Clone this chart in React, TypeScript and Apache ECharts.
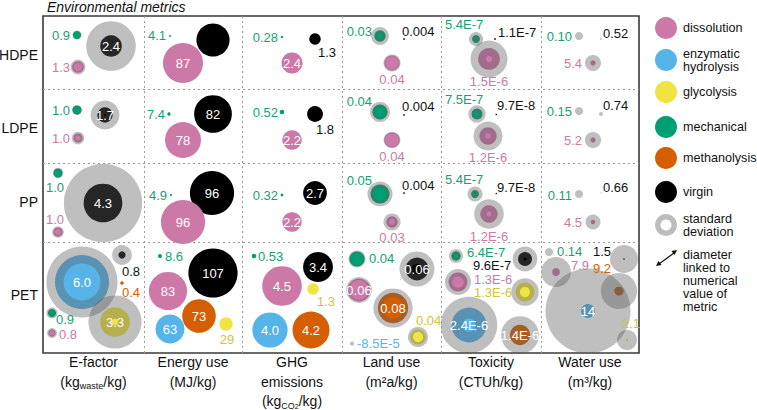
import React, { useEffect, useRef } from 'react';
import * as echarts from 'echarts';

const PLASTICS = ['HDPE', 'LDPE', 'PP', 'PET'];
const METRICS = ['E-factor', 'Energy use', 'GHG emissions', 'Land use', 'Toxicity', 'Water use'];
const METHODS = ['dissolution', 'enzymatic hydrolysis', 'glycolysis', 'mechanical', 'methanolysis', 'virgin'];

// [plastic, method, value, standard deviation, label]
const eFactor: any[] = [
  ['HDPE', 'mechanical', 0.9, 0.1, '0.9'],
  ['HDPE', 'dissolution', 1.3, 0.35, '1.3'],
  ['HDPE', 'virgin', 2.4, 3.1, '2.4'],
  ['LDPE', 'mechanical', 1.0, 0.1, '1.0'],
  ['LDPE', 'dissolution', 1.0, 0.4, '1.0'],
  ['LDPE', 'virgin', 1.7, 1.5, '1.7'],
  ['PP', 'mechanical', 1.0, 0.15, '1.0'],
  ['PP', 'virgin', 4.3, 4.4, '4.3'],
  ['PP', 'dissolution', 1.0, 0.3, '1.0'],
  ['PET', 'enzymatic hydrolysis', 6.0, 1.9, '6.0'],
  ['PET', 'virgin', 0.8, 1.4, '0.8'],
  ['PET', 'methanolysis', 0.4, 0, '0.4'],
  ['PET', 'glycolysis', 3.3, 2.6, '3.3'],
  ['PET', 'mechanical', 0.9, 0.35, '0.9'],
  ['PET', 'dissolution', 0.8, 0.3, '0.8'],
];
const energyUse: any[] = [
  ['HDPE', 'mechanical', 4.1, 0, '4.1'],
  ['HDPE', 'virgin', 72, 0, ''],
  ['HDPE', 'dissolution', 87, 0, '87'],
  ['LDPE', 'mechanical', 7.4, 0, '7.4'],
  ['LDPE', 'virgin', 82, 0, '82'],
  ['LDPE', 'dissolution', 78, 0, '78'],
  ['PP', 'mechanical', 4.9, 0, '4.9'],
  ['PP', 'virgin', 96, 0, '96'],
  ['PP', 'dissolution', 96, 0, '96'],
  ['PET', 'mechanical', 8.6, 0, '8.6'],
  ['PET', 'virgin', 107, 0, '107'],
  ['PET', 'dissolution', 83, 0, '83'],
  ['PET', 'methanolysis', 73, 0, '73'],
  ['PET', 'enzymatic hydrolysis', 63, 0, '63'],
  ['PET', 'glycolysis', 29, 0, '29'],
];
const ghg: any[] = [
  ['HDPE', 'mechanical', 0.28, 0, '0.28'],
  ['HDPE', 'virgin', 1.3, 0, '1.3'],
  ['HDPE', 'dissolution', 2.4, 0, '2.4'],
  ['LDPE', 'mechanical', 0.52, 0, '0.52'],
  ['LDPE', 'virgin', 1.8, 0, '1.8'],
  ['LDPE', 'dissolution', 2.2, 0, '2.2'],
  ['PP', 'mechanical', 0.32, 0, '0.32'],
  ['PP', 'virgin', 2.7, 0, '2.7'],
  ['PP', 'dissolution', 2.2, 0, '2.2'],
  ['PET', 'mechanical', 0.53, 0, '0.53'],
  ['PET', 'virgin', 3.4, 0, '3.4'],
  ['PET', 'dissolution', 4.5, 0, '4.5'],
  ['PET', 'glycolysis', 1.3, 0, '1.3'],
  ['PET', 'enzymatic hydrolysis', 4.0, 0, '4.0'],
  ['PET', 'methanolysis', 4.2, 0, '4.2'],
];
const landUse: any[] = [
  ['HDPE', 'mechanical', 0.03, 0.017, '0.03'],
  ['HDPE', 'virgin', 0.004, 0, '0.004'],
  ['HDPE', 'dissolution', 0.04, 0.005, '0.04'],
  ['LDPE', 'mechanical', 0.04, 0.013, '0.04'],
  ['LDPE', 'virgin', 0.004, 0, '0.004'],
  ['LDPE', 'dissolution', 0.04, 0.004, '0.04'],
  ['PP', 'mechanical', 0.05, 0.016, '0.05'],
  ['PP', 'virgin', 0.004, 0, '0.004'],
  ['PP', 'dissolution', 0.03, 0.015, '0.03'],
  ['PET', 'mechanical', 0.04, 0.005, '0.04'],
  ['PET', 'virgin', 0.06, 0.032, '0.06'],
  ['PET', 'dissolution', 0.06, 0.008, '0.06'],
  ['PET', 'methanolysis', 0.08, 0.023, '0.08'],
  ['PET', 'glycolysis', 0.04, 0.013, '0.04'],
  ['PET', 'enzymatic hydrolysis', -0.000085, 0.011, '-8.5E-5'],
];
const toxicity: any[] = [
  ['HDPE', 'mechanical', 5.4e-7, 0.43e-6, '5.4E-7'],
  ['HDPE', 'virgin', 1.1e-7, 0, '1.1E-7'],
  ['HDPE', 'dissolution', 1.5e-6, 1.05e-6, '1.5E-6'],
  ['LDPE', 'mechanical', 7.5e-7, 0.45e-6, '7.5E-7'],
  ['LDPE', 'virgin', 9.7e-8, 0, '9.7E-8'],
  ['LDPE', 'dissolution', 1.2e-6, 0.8e-6, '1.2E-6'],
  ['PP', 'mechanical', 5.4e-7, 0.5e-6, '5.4E-7'],
  ['PP', 'virgin', 9.7e-8, 0, '9.7E-8'],
  ['PP', 'dissolution', 1.2e-6, 0.85e-6, '1.2E-6'],
  ['PET', 'mechanical', 6.4e-7, 0.33e-6, '6.4E-7'],
  ['PET', 'virgin', 9.6e-7, 0.75e-6, '9.6E-7'],
  ['PET', 'dissolution', 1.3e-6, 0.5e-6, '1.3E-6'],
  ['PET', 'glycolysis', 1.3e-6, 0.6e-6, '1.3E-6'],
  ['PET', 'enzymatic hydrolysis', 2.4e-6, 1.5e-6, '2.4E-6'],
  ['PET', 'methanolysis', 1.4e-6, 1.2e-6, '1.4E-6'],
];
const waterUse: any[] = [
  ['HDPE', 'mechanical', 0.10, 8, '0.10'],
  ['HDPE', 'virgin', 0.52, 1.5, '0.52'],
  ['HDPE', 'dissolution', 5.4, 10.6, '5.4'],
  ['LDPE', 'mechanical', 0.15, 8, '0.15'],
  ['LDPE', 'virgin', 0.74, 3.3, '0.74'],
  ['LDPE', 'dissolution', 5.2, 11, '5.2'],
  ['PP', 'mechanical', 0.11, 8, '0.11'],
  ['PP', 'virgin', 0.66, 0.5, '0.66'],
  ['PP', 'dissolution', 4.5, 10.5, '4.5'],
  ['PET', 'mechanical', 0.14, 8, '0.14'],
  ['PET', 'dissolution', 7.9, 22, '7.9'],
  ['PET', 'virgin', 1.5, 26.5, '1.5'],
  ['PET', 'methanolysis', 9.2, 27, '9.2'],
  ['PET', 'enzymatic hydrolysis', 14, 71, '14'],
  ['PET', 'glycolysis', 2.1, 18, '2.1'],
];

// ---- layout (positions inside the panel grid, page px): [cx, cy, labelX, labelY, labelMode]
const eFactorPos: any[] = [
  [77, 35, 70, 35, 'R'], [78, 67, 70, 67, 'R'], [111, 46, 0, 0, 'in'],
  [77, 110, 70, 110, 'R'], [78, 138, 70, 138, 'R'], [105, 115, 0, 0, 'in'],
  [58, 173, 55, 187, 'C'], [103, 203, 0, 0, 'in'], [58, 232, 55, 219, 'C'],
  [82, 282, 0, 0, 'in'], [122, 255, 131, 271, 'C'], [122, 283, 131, 292, 'C'],
  [115, 322, 0, 0, 'in'], [52, 313, 56, 319.5, 'L'], [52, 333, 59, 334.5, 'L'],
];
const energyPos: any[] = [
  [170, 36, 166, 35, 'R'], [213, 40, 0, 0, 'in'], [183, 63, 0, 0, 'in'],
  [169, 114, 165, 114, 'R'], [213, 114, 0, 0, 'in'], [183, 140, 0, 0, 'in'],
  [171, 195, 167, 195, 'R'], [212, 193, 0, 0, 'in'], [183, 222, 0, 0, 'in'],
  [160, 256, 165, 256, 'L'], [213, 273, 0, 0, 'in'], [168, 291, 0, 0, 'in'],
  [199, 316, 0, 0, 'in'], [170, 329, 0, 0, 'in'], [226, 324, 227, 339, 'C'],
];
const ghgPos: any[] = [
  [282, 37, 278, 37, 'R'], [315, 39, 318, 52, 'L'], [292, 63, 0, 0, 'in'],
  [282, 112, 278, 112, 'R'], [315, 114, 316, 129, 'L'], [292, 140, 0, 0, 'in'],
  [282, 195, 278, 195, 'R'], [315, 193, 0, 0, 'in'], [292, 222, 0, 0, 'in'],
  [254, 256, 258, 256, 'L'], [318, 267, 0, 0, 'in'], [282, 286, 0, 0, 'in'],
  [313, 289, 317, 301, 'L'], [270, 330, 0, 0, 'in'], [311, 330, 0, 0, 'in'],
];
const landPos: any[] = [
  [380, 36, 372, 31, 'R'], [404, 39, 402, 31, 'L'], [392, 63, 392, 79, 'C'],
  [380, 112, 372, 101, 'R'], [404, 115, 402, 106, 'L'], [392, 140, 392, 156, 'C'],
  [380, 194, 372, 180, 'R'], [404, 193, 402, 185, 'L'], [392, 222, 392, 237, 'C'],
  [357, 259, 369, 258, 'L'], [417, 269, 0, 0, 'in'], [359, 290, 0, 0, 'in'],
  [393, 308, 0, 0, 'in'], [418, 337, 416, 320, 'L'], [352, 343, 357, 343, 'L'],
];
const toxPos: any[] = [
  [476, 39, 445, 24, 'L'], [495, 39, 498, 32, 'L'], [489, 59, 489, 81, 'C'],
  [477, 114, 445, 99, 'L'], [496, 114, 497, 105, 'L'], [488, 136, 488, 157, 'C'],
  [475, 194, 445, 179, 'L'], [496, 193, 497, 187, 'L'], [489, 214, 489, 236, 'C'],
  [456, 256, 467, 252, 'L'], [525, 259, 473, 265.5, 'L'], [458, 282, 474, 279, 'L'],
  [525, 292, 474, 292.5, 'L'], [469, 325, 0, 0, 'in'], [520, 335, 0, 0, 'in'],
];
const waterPos: any[] = [
  [579, 36, 572, 36, 'R'], [601, 39, 603, 33, 'L'], [593, 63, 582, 63, 'R'],
  [579, 111, 572, 111, 'R'], [601, 114, 603, 105, 'L'], [593, 140, 582, 140, 'R'],
  [579, 194, 572, 195, 'R'], [601, 193, 603, 187, 'L'], [593, 222, 582, 222, 'R'],
  [549, 252, 557, 251.5, 'L'], [556, 272, 571, 265, 'L'], [624, 259, 593, 251.5, 'L'],
  [619, 291, 593, 268, 'L'], [588, 311, 0, 0, 'in'], [627, 340, 622, 323, 'L'],
];

// pixels of diameter per unit of each metric
const SCALE = [9, 0.46, 8.8, 380, 1.45e7, 1.0];

const GRID = { left: 43, top: 16, width: 596, height: 337 };
const COL_EDGES = [144, 242, 342, 441, 541];
const ROW_EDGES = [89, 163, 242];
const ROW_LABEL_Y = [55, 128, 202, 295];
const COL_CENTER = [93.5, 193, 292, 391.5, 491, 590];

const COLORS: Record<string, string> = {
  dissolution: '#cc79a7',
  'enzymatic hydrolysis': '#56b4e9',
  glycolysis: '#f0e442',
  mechanical: '#009e73',
  methanolysis: '#d55e00',
  virgin: '#000000',
};
const LABEL_COLORS: Record<string, string> = {
  dissolution: '#cc79a7',
  'enzymatic hydrolysis': '#56b4e9',
  glycolysis: '#d2c43a',
  mechanical: '#17a077',
  methanolysis: '#d55e00',
  virgin: '#111111',
};
const SD_FILL = 'rgba(96,96,96,0.4)';
const FONT = '"Liberation Sans", Arial, Helvetica, sans-serif';

const METRIC_DATA = [eFactor, energyUse, ghg, landUse, toxicity, waterUse];
const METRIC_POS = [eFactorPos, energyPos, ghgPos, landPos, toxPos, waterPos];

type Bubble = { m: number; method: string; v: number; sd: number; label: string; pos: any[] };
const bubbles: Bubble[] = [];
METRIC_DATA.forEach((rows, m) =>
  rows.forEach((r, i) =>
    bubbles.push({ m, method: r[1], v: r[2], sd: r[3], label: r[4], pos: METRIC_POS[m][i] })
  )
);

function App() {
  const ref = useRef<HTMLDivElement>(null);
  useEffect(() => {
    const chart = echarts.init(ref.current!, undefined, { renderer: 'svg' });
    const data = bubbles.map((b) => [b.pos[0] - GRID.left, b.pos[1] - GRID.top]);
    const labelData = bubbles.map((b) =>
      b.pos[4] === 'in'
        ? [b.pos[0] - GRID.left, b.pos[1] - GRID.top]
        : [b.pos[2] - GRID.left, b.pos[3] - GRID.top]
    );

    const graphic: any[] = [];
    graphic.push({
      type: 'text', x: 47, y: 7,
      style: { text: 'Environmental metrics', font: `italic 14px ${FONT}`, fill: '#111', verticalAlign: 'middle' },
    });
    PLASTICS.forEach((p, i) =>
      graphic.push({
        type: 'text', x: 38, y: ROW_LABEL_Y[i],
        style: { text: p, font: `14px ${FONT}`, fill: '#111', align: 'right', verticalAlign: 'middle' },
      })
    );
    const sub = { fontSize: 9, lineHeight: 7, verticalAlign: 'bottom', fontFamily: FONT, fill: '#111' };
    const sub2 = { fontSize: 7, lineHeight: 4, verticalAlign: 'bottom', fontFamily: FONT, fill: '#111' };
    const colLines: string[][] = [
      ['E-factor', '(kg{s|waste}/kg)'],
      ['Energy use', '(MJ/kg)'],
      ['GHG', 'emissions', '(kg{s|CO}{t|2}/kg)'],
      ['Land use', '(m²a/kg)'],
      ['Toxicity', '(CTUh/kg)'],
      ['Water use', '(m³/kg)'],
    ];
    colLines.forEach((lines, c) =>
      lines.forEach((t, j) =>
        graphic.push({
          type: 'text', x: COL_CENTER[c], y: 362 + j * 19.5,
          style: {
            text: t, font: `14px ${FONT}`, fill: '#111', align: 'center', verticalAlign: 'middle',
            lineHeight: 18, rich: { s: sub, t: sub2 },
          },
        })
      )
    );
    // legend
    const LX = 666, TX = 683;
    const LFONT = `12.6px ${FONT}`;
    const legendRows: [string, number][] = [
      ['dissolution', 28], ['enzymatic hydrolysis', 60], ['glycolysis', 92],
      ['mechanical', 127], ['methanolysis', 158], ['virgin', 192],
    ];
    legendRows.forEach(([m, y]) => {
      graphic.push({ type: 'circle', shape: { cx: LX, cy: y, r: 11 }, style: { fill: COLORS[m] } });
      graphic.push({
        type: 'text', x: TX, y,
        style: {
          text: m === 'enzymatic hydrolysis' ? 'enzymatic\nhydrolysis' : m,
          font: LFONT, fill: '#111', verticalAlign: 'middle', lineHeight: 13,
        },
      });
    });
    graphic.push({ type: 'ring', shape: { cx: LX, cy: 225, r: 11, r0: 5.5 }, style: { fill: '#bdbdbd' } });
    graphic.push({
      type: 'text', x: TX, y: 225,
      style: { text: 'standard\ndeviation', font: LFONT, fill: '#111', verticalAlign: 'middle', lineHeight: 13 },
    });
    graphic.push({ type: 'line', shape: { x1: 659, y1: 264, x2: 674, y2: 253 }, style: { stroke: '#111', lineWidth: 1.2 } });
    graphic.push({ type: 'polygon', shape: { points: [[677, 250], [674.5, 255], [671.5, 251]] }, style: { fill: '#111' } });
    graphic.push({ type: 'polygon', shape: { points: [[656, 266], [661.5, 265], [658.5, 261]] }, style: { fill: '#111' } });
    graphic.push({
      type: 'text', x: TX, y: 281,
      style: {
        text: 'diameter\nlinked to\nnumerical\nvalue of\nmetric',
        font: LFONT, fill: '#111', verticalAlign: 'middle', lineHeight: 13,
      },
    });

    const sepLines = [
      ...COL_EDGES.map((x) => ({ xAxis: x - GRID.left })),
      ...ROW_EDGES.map((y) => ({ yAxis: y - GRID.top })),
    ];

    const option: any = {
      animation: false,
      backgroundColor: '#fff',
      grid: {
        left: GRID.left, top: GRID.top, width: GRID.width, height: GRID.height,
        show: true, borderColor: '#3a3a3a', borderWidth: 1.6, backgroundColor: 'transparent',
      },
      xAxis: { type: 'value', min: 0, max: GRID.width, show: false },
      yAxis: { type: 'value', min: 0, max: GRID.height, inverse: true, show: false },
      graphic,
      series: [
        {
          type: 'custom', name: 'bubbles', z: 2, data,
          renderItem: (params: any, api: any) => {
            const b = bubbles[params.dataIndex];
            const c = api.coord([api.value(0), api.value(1)]);
            const d = api.size([Math.abs(b.v) * SCALE[b.m], 0])[0];
            return { type: 'circle', shape: { cx: c[0], cy: c[1], r: d / 2 }, style: { fill: COLORS[b.method] } };
          },
          markLine: {
            silent: true, symbol: 'none', label: { show: false },
            lineStyle: { color: '#9a9a9a', type: [2, 3], width: 1 },
            data: sepLines,
          },
        },
        {
          type: 'custom', name: 'standard deviation', z: 3, data,
          renderItem: (params: any, api: any) => {
            const b = bubbles[params.dataIndex];
            if (!(b.sd > 0)) return null;
            const c = api.coord([api.value(0), api.value(1)]);
            const a = Math.abs(b.v);
            const outer = api.size([(a + b.sd) * SCALE[b.m], 0])[0] / 2;
            const inner = api.size([Math.max(0, a - b.sd) * SCALE[b.m], 0])[0] / 2;
            return { type: 'ring', shape: { cx: c[0], cy: c[1], r: outer, r0: inner }, style: { fill: SD_FILL } };
          },
        },
        {
          type: 'custom', name: 'labels', z: 4, data: labelData,
          renderItem: (params: any, api: any) => {
            const b = bubbles[params.dataIndex];
            if (!b.label) return null;
            const c = api.coord([api.value(0), api.value(1)]);
            const mode = b.pos[4];
            const inside = mode === 'in';
            return {
              type: 'text', x: c[0], y: c[1],
              style: {
                text: b.label,
                font: `13px ${FONT}`,
                fill: inside ? '#ffffff' : LABEL_COLORS[b.method],
                align: inside || mode === 'C' ? 'center' : mode === 'R' ? 'right' : 'left',
                verticalAlign: 'middle',
              },
            };
          },
        },
      ],
    };
    chart.setOption(option);
    return () => chart.dispose();
  }, []);
  return (
    <div
      ref={ref}
      style={{ position: 'absolute', left: 0, top: 0, width: 757, height: 410, background: '#fff' }}
    />
  );
}

export default App;
